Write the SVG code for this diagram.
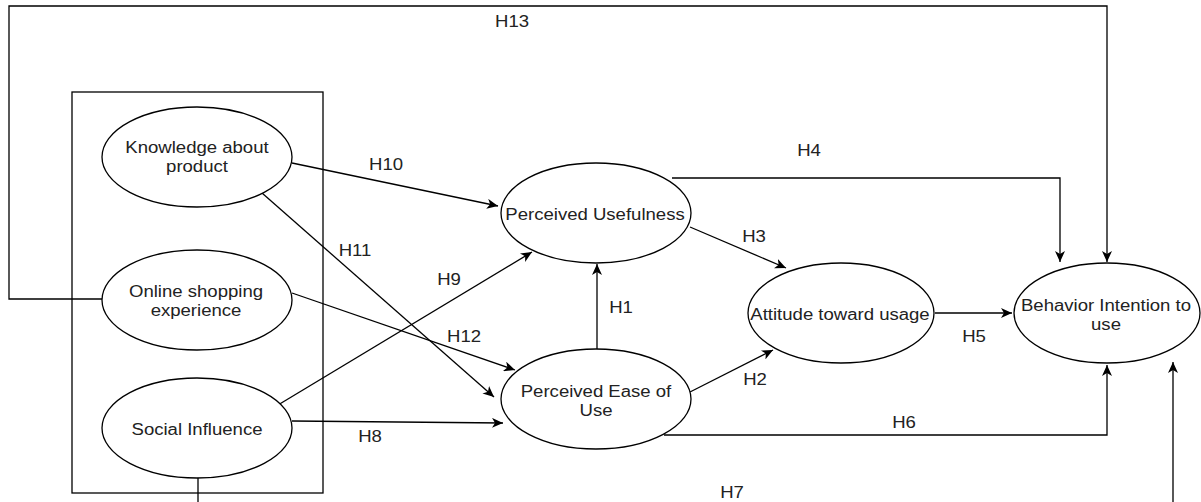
<svg xmlns="http://www.w3.org/2000/svg" width="1201" height="502" viewBox="0 0 1201 502">
<style>
.n{fill:#fff;stroke:#000;stroke-width:1.3}
.c{fill:none;stroke:#000;stroke-width:1.3}
text{font-family:"Liberation Sans",Arial,sans-serif;font-size:16px;fill:#222;text-anchor:middle}
</style>
<defs>
<marker id="a" markerUnits="userSpaceOnUse" markerWidth="12" markerHeight="10" refX="11" refY="5" orient="auto" viewBox="0 0 12 10">
<path d="M0,0 L11,5 L0,10 L3,5 Z" fill="#000"/>
</marker>
</defs>
<rect id="box" x="72" y="92" width="251" height="401" fill="none" stroke="#000" stroke-width="1.3"/>
<g id="connectors">
<path class="c" d="M102,299 H9 V6 H1107 V262" marker-end="url(#a)"/>
<path class="c" d="M198,478 V512 H1173 V362" marker-end="url(#a)"/>
<path class="c" d="M672,178 H1060 V262" marker-end="url(#a)"/>
<path class="c" d="M664,435 H1107 V365" marker-end="url(#a)"/>
<path class="c" d="M935,313 H1012" marker-end="url(#a)"/>
<path class="c" d="M597,349 V264" marker-end="url(#a)"/>
<path class="c" d="M690,227 L786,268" marker-end="url(#a)"/>
<path class="c" d="M690,392 L773,350" marker-end="url(#a)"/>
<path class="c" d="M292,163 L498,206" marker-end="url(#a)"/>
<path class="c" d="M262,193 L494,397" marker-end="url(#a)"/>
<path class="c" d="M278,405 L532,252" marker-end="url(#a)"/>
<path class="c" d="M292,293 L515,370" marker-end="url(#a)"/>
<path class="c" d="M292,421 L503,423" marker-end="url(#a)"/>
</g>
<g id="labels">
<text transform="matrix(1.16 0 0 1 512 27)">H13</text>
<text transform="matrix(1.16 0 0 1 386 170)">H10</text>
<text transform="matrix(1.16 0 0 1 355 256)">H11</text>
<text transform="matrix(1.16 0 0 1 449 285)">H9</text>
<text transform="matrix(1.16 0 0 1 464 342)">H12</text>
<text transform="matrix(1.16 0 0 1 621 313)">H1</text>
<text transform="matrix(1.16 0 0 1 370 442)">H8</text>
<text transform="matrix(1.16 0 0 1 809 156)">H4</text>
<text transform="matrix(1.16 0 0 1 754 242)">H3</text>
<text transform="matrix(1.16 0 0 1 755 385)">H2</text>
<text transform="matrix(1.16 0 0 1 974 342)">H5</text>
<text transform="matrix(1.16 0 0 1 904 428)">H6</text>
<text transform="matrix(1.16 0 0 1 732 498)">H7</text>
</g>
<g id="knowledge">
<ellipse class="n" cx="197" cy="157" rx="95" ry="50"/>
<text transform="matrix(1.16 0 0 1 197 153)"><tspan x="0">Knowledge about</tspan><tspan x="0" dy="19">product</tspan></text>
</g>
<g id="online">
<ellipse class="n" cx="197" cy="300" rx="95" ry="50"/>
<text transform="matrix(1.16 0 0 1 196 297)"><tspan x="0">Online shopping</tspan><tspan x="0" dy="19">experience</tspan></text>
</g>
<g id="social">
<ellipse class="n" cx="197" cy="428" rx="95" ry="50"/>
<text transform="matrix(1.16 0 0 1 197 435)">Social Influence</text>
</g>
<g id="pu">
<ellipse class="n" cx="596" cy="213" rx="95" ry="50"/>
<text transform="matrix(1.16 0 0 1 595 220)">Perceived Usefulness</text>
</g>
<g id="peu">
<ellipse class="n" cx="596" cy="399" rx="95" ry="50"/>
<text transform="matrix(1.16 0 0 1 596 397)"><tspan x="0">Perceived Ease of</tspan><tspan x="0" dy="19">Use</tspan></text>
</g>
<g id="attitude">
<ellipse class="n" cx="841" cy="313" rx="93" ry="50"/>
<text transform="matrix(1.16 0 0 1 840 320)">Attitude toward usage</text>
</g>
<g id="behavior">
<ellipse class="n" cx="1107" cy="313" rx="93" ry="50"/>
<text transform="matrix(1.16 0 0 1 1106 311)"><tspan x="0">Behavior Intention to</tspan><tspan x="0" dy="19">use</tspan></text>
</g>
</svg>
